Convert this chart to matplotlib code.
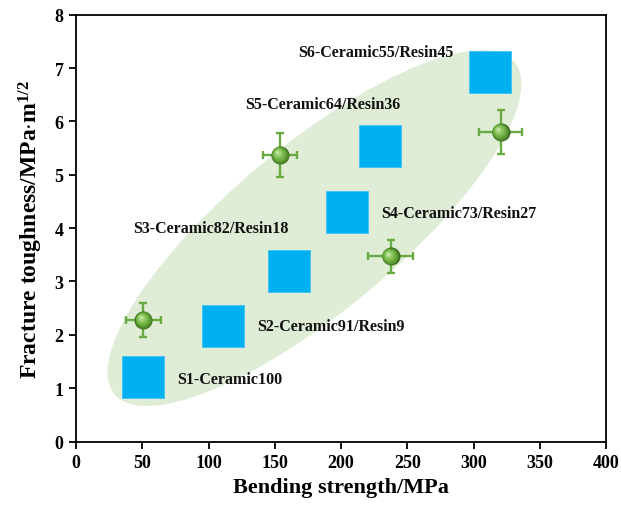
import matplotlib
matplotlib.use("Agg")
import matplotlib.pyplot as plt
import matplotlib.transforms as mtransforms
from matplotlib.patches import Ellipse

plt.rcParams["font.family"] = ["Liberation Serif", "DejaVu Serif"]
plt.rcParams["font.weight"] = "bold"
plt.rcParams["mathtext.fontset"] = "custom"
plt.rcParams["mathtext.rm"] = "Liberation Serif:bold"
plt.rcParams["mathtext.bf"] = "Liberation Serif:bold"
plt.rcParams["mathtext.it"] = "Liberation Serif:bold:italic"

# Samples (blue squares)
sample_names = ["S1-Ceramic100", "S2-Ceramic91/Resin9", "S3-Ceramic82/Resin18",
                "S4-Ceramic73/Resin27", "S5-Ceramic64/Resin36", "S6-Ceramic55/Resin45"]
sample_strength = [50.6, 111.0, 161.0, 204.8, 229.7, 312.5]
sample_toughness = [1.21, 2.16, 3.19, 4.31, 5.53, 6.93]

# Reference materials (green spheres with error bars)
ref_strength = [50.8, 154.0, 237.5, 320.5]
ref_toughness = [2.28, 5.37, 3.47, 5.80]
ref_strength_err = [13, 13, 17, 16]
ref_toughness_err = [0.32, 0.41, 0.31, 0.42]

# Label anchors (left edge, vertical centre) in data units
label_x = [76.2, 136.4, 43.4, 230.2, 127.6, 167.8]
label_y = [1.17, 2.17, 4.01, 4.28, 6.33, 7.31]

x_ticks = [0, 50, 100, 150, 200, 250, 300, 350, 400]
y_ticks = [0, 1, 2, 3, 4, 5, 6, 7, 8]

W, H, DPI = 621, 510, 100
fig = plt.figure(figsize=(W / DPI, H / DPI), dpi=DPI)
ax_l, ax_r, ax_t, ax_b = 76, 606, 15.7, 442.5
ax = fig.add_axes([ax_l / W, 1 - ax_b / H, (ax_r - ax_l) / W, (ax_b - ax_t) / H])
ax.set_xlim(0, 400)
ax.set_ylim(0, 8)

# Highlight region: an ellipse defined in screen pixels, mapped into data units
px_per_x = (ax_r - ax_l) / 400
px_per_y = (ax_b - ax_t) / 8
ell_tr = (mtransforms.Affine2D().scale(1 / px_per_x, 1 / px_per_y)
          .translate(180.0, 4.0) + ax.transData)
ax.add_patch(Ellipse((0, 0), 520, 166, angle=39.7, facecolor="#dfedd6",
                     edgecolor="none", transform=ell_tr, zorder=1))

# Sample squares
ax.plot(sample_strength, sample_toughness, linestyle="none", marker="s",
        markersize=30, markerfacecolor="#00b0f0", markeredgecolor="#3cc3f5",
        markeredgewidth=0.6, zorder=2)

# Error bars of the reference materials
ax.errorbar(ref_strength, ref_toughness, xerr=ref_strength_err,
            yerr=ref_toughness_err, fmt="none", ecolor="#6aaa45",
            elinewidth=1.7, capsize=3.2, capthick=1.7, zorder=3)

# Shaded spheres: stacked discs shifted toward the highlight
shades = [(13.0, "#3b6a1e", 0.0, 0.0), (12.0, "#4f8a2b", -0.2, 0.2),
          (10.8, "#5e9d36", -0.5, 0.5), (9.2, "#6fb043", -0.9, 0.9),
          (7.2, "#84c257", -1.3, 1.3), (4.8, "#9fd276", -1.7, 1.7),
          (2.5, "#c2e4a4", -2.0, 2.0)]
for ms, col, dx, dy in shades:
    tr = mtransforms.offset_copy(ax.transData, fig=fig, x=dx, y=dy, units="points")
    ax.plot(ref_strength, ref_toughness, linestyle="none", marker="o",
            markersize=ms, markerfacecolor=col, markeredgecolor="none",
            transform=tr, zorder=4)

for name, lx, ly in zip(sample_names, label_x, label_y):
    ax.text(lx, ly, name, fontsize=11.5, fontweight="bold", ha="left",
            va="center", color="#111111", zorder=5)

ax.set_xticks(x_ticks)
ax.set_yticks(y_ticks)
ax.tick_params(axis="both", direction="out", length=5, width=1.3,
               labelsize=13, pad=4, top=False, right=False)
for lab in ax.get_xticklabels() + ax.get_yticklabels():
    lab.set_fontweight("bold")
for sp in ax.spines.values():
    sp.set_linewidth(1.3)

ax.set_xlabel("Bending strength/MPa", fontsize=16, fontweight="bold", labelpad=4)
ax.set_ylabel(r"Fracture toughness/MPa$\cdot$m$^{1/2}$", fontsize=17,
              fontweight="bold", labelpad=7)

fig.savefig("out.png", dpi=DPI)
